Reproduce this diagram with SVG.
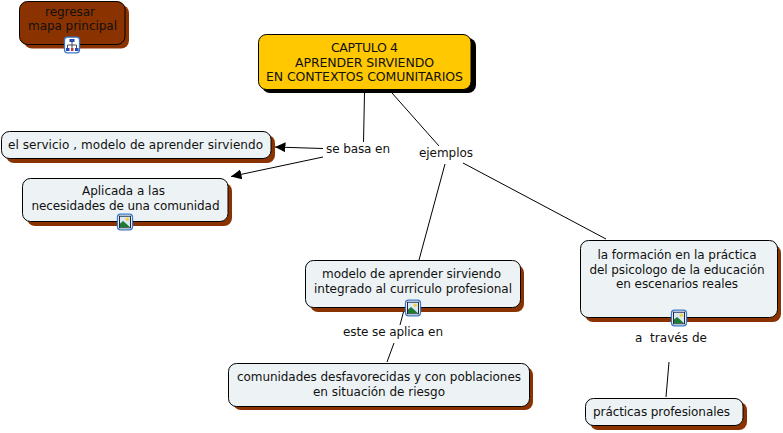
<svg xmlns="http://www.w3.org/2000/svg" width="783" height="433" viewBox="0 0 783 433">
<style>
text{font-family:"DejaVu Sans",Verdana,sans-serif;font-size:12px;fill:#111;text-anchor:middle;white-space:pre}
text.u{font-size:12.500px}
.s{fill:#8b3300}
.k{fill:#000}
.n{fill:#edf3f5;stroke:#000;stroke-width:1}
.c{stroke:#000;stroke-width:1;fill:none}
.b{fill:#fff;stroke:#3a78c8;stroke-width:1.300}
</style>
<defs>
<marker id="a" markerUnits="userSpaceOnUse" markerWidth="12" markerHeight="12" refX="10.500" refY="5" orient="auto"><path d="M0 0L10.500 5L0 10Z" fill="#000"/></marker>
<g id="pic"><rect class="b" x="-7.500" y="-7.800" width="15" height="15.600" rx="3"/><rect x="-5.500" y="-5.800" width="11" height="11.600" fill="#dce9f5" stroke="#1b2a44" stroke-width="1"/><circle cx="2.300" cy="-2.800" r="1.800" fill="#f2d04a"/><path d="M-5 5.300V1.500L-2 -1L1 1.500L5 5.300Z" fill="#1f7a35"/></g>
<g id="map"><rect class="b" x="-7.500" y="-7.800" width="15" height="15.600" rx="3"/><path d="M0 -3V3M-4.500 3V0H4.500V3" stroke="#223" stroke-width=".8" fill="none"/><rect x="-2.500" y="-6" width="5" height="3" fill="#2a4bb0"/><rect x="-6" y="3" width="3.500" height="3" fill="#2a4bb0"/><rect x="-1" y="3" width="2.500" height="3" fill="#c23b3b"/><rect x="3" y="3" width="3.500" height="3" fill="#2a4bb0"/></g>
</defs>
<g id="connectors">
<path class="c" d="M364.500 93L363.500 142"/>
<path class="c" d="M323 148.500L275 147" marker-end="url(#a)"/>
<path class="c" d="M323 157L231 176.500" marker-end="url(#a)"/>
<path class="c" d="M392 93L439 146"/>
<path class="c" d="M445 164L419 260"/>
<path class="c" d="M463 163L606 239"/>
<path class="c" d="M404 310L400 325"/>
<path class="c" d="M394 343L387 362"/>
<path class="c" d="M669 362L666 397"/>
</g>
<g id="n-regresar"><rect class="s" x="24" y="5" width="105" height="43.500" rx="8"/><rect x="19.500" y="1.500" width="105.500" height="43" rx="8" fill="#8b3300" stroke="#000"/><text x="70" y="16" textLength="50">regresar</text><text x="72.500" y="30" textLength="89">mapa principal</text><use href="#map" x="72" y="45"/></g>
<g id="n-capitulo"><rect class="k" x="262" y="38" width="214" height="55" rx="8"/><rect x="258.500" y="34.500" width="212.500" height="55" rx="8" fill="#ffc800" stroke="#000"/><text class="u" x="364.500" y="52" textLength="67">CAPTULO 4</text><text class="u" x="364.500" y="66.500" textLength="139">APRENDER SIRVIENDO</text><text class="u" x="364.500" y="81" textLength="197">EN CONTEXTOS COMUNITARIOS</text></g>
<g id="n-servicio"><rect class="s" x="6" y="135" width="269" height="28" rx="8"/><rect class="n" x="1.500" y="131.500" width="269.500" height="27" rx="8"/><text x="135.500" y="148.500" textLength="255">el servicio , modelo de aprender sirviendo</text></g>
<g id="n-aplicada"><rect class="s" x="27" y="183" width="205" height="43" rx="8"/><rect class="n" x="22.500" y="178.500" width="205.500" height="43" rx="8"/><text x="123.500" y="195" textLength="83">Aplicada a las</text><text x="125.500" y="209.500" textLength="188">necesidades de una comunidad</text><use href="#pic" x="125" y="222"/></g>
<g id="n-modelo"><rect class="s" x="310" y="265" width="214" height="47" rx="8"/><rect class="n" x="305.500" y="260.500" width="215" height="47" rx="8"/><text x="411.500" y="278" textLength="179">modelo de aprender sirviendo</text><text x="413" y="292.500" textLength="198">integrado al curriculo profesional</text><use href="#pic" x="413" y="308"/></g>
<g id="n-comunidades"><rect class="s" x="233" y="367" width="300" height="43" rx="8"/><rect class="n" x="228.500" y="363.500" width="301" height="43" rx="8"/><text x="379" y="381" textLength="284">comunidades desfavorecidas y con poblaciones</text><text x="379" y="395.500" textLength="132">en situación de riesgo</text></g>
<g id="n-formacion"><rect class="s" x="585" y="245" width="196" height="77" rx="8"/><rect class="n" x="580.500" y="240.500" width="197" height="77" rx="8"/><text x="677" y="259" textLength="159">la formación en la práctica</text><text x="677" y="273.500" textLength="175">del psicologo de la educación</text><text x="677" y="288" textLength="122">en escenarios reales</text><use href="#pic" x="679" y="318"/></g>
<g id="n-practicas"><rect class="s" x="590" y="402" width="157" height="28" rx="8"/><rect class="n" x="585.500" y="398.500" width="157.500" height="27" rx="8"/><text x="661.500" y="416" textLength="137">prácticas profesionales</text></g>
<g id="l-sebasa"><text x="358" y="153" textLength="64">se basa en</text></g>
<g id="l-ejemplos"><text x="446" y="157" textLength="54">ejemplos</text></g>
<g id="l-este"><text x="393" y="336" textLength="100">este se aplica en</text></g>
<g id="l-traves"><text x="671" y="342" textLength="72">a  través de</text></g>
</svg>
